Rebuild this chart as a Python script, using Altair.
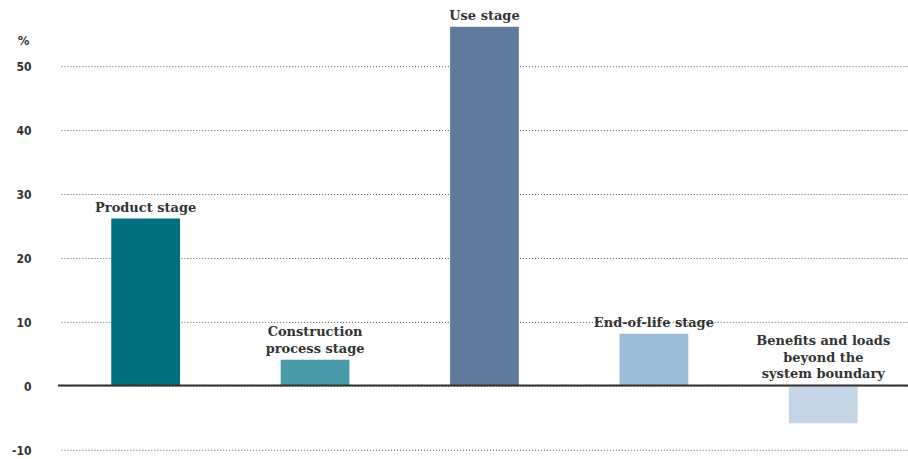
import altair as alt
import pandas as pd

stages = ["Product stage", "Construction process stage", "Use stage", "End-of-life stage",
          "Benefits and loads beyond the system boundary"]
stage_lines = [["Product stage"], ["Construction", "process stage"], ["Use stage"],
               ["End-of-life stage"], ["Benefits and loads", "beyond the", "system boundary"]]
values = [26.1, 4.0, 56.1, 8.1, -5.9]
colors = ["#00707F", "#4A9BAA", "#5E7B9B", "#9BBCD9", "#C4D5E6"]
y_ticks = [-10, 0, 10, 20, 30, 40, 50]

df = pd.DataFrame({"stage": stages, "value": values, "color": colors})

rows = []
for s, lines, v in zip(stages, stage_lines, values):
    n = len(lines)
    for i, ln in enumerate(lines):
        rows.append({"stage": s, "line": ln, "k": n - 1 - i, "label_y": max(v, 0)})
ldf = pd.DataFrame(rows)

x = alt.X("stage:N", sort=stages, axis=None,
          scale=alt.Scale(paddingInner=0.594, paddingOuter=0.297))
yscale = alt.Scale(domain=[-11, 59], nice=False, zero=False)

bars = alt.Chart(df).mark_bar().encode(
    x=x,
    y=alt.Y("value:Q", scale=yscale,
            axis=alt.Axis(values=y_ticks, title="%", titleAngle=0, titleX=-38, titleY=39,
                          titleAlign="center", titleFont="DejaVu Sans Condensed",
                          titleFontSize=13, titleFontWeight="bold", titleColor="#333333",
                          labelFont="DejaVu Sans Condensed", labelFontSize=12,
                          labelFontWeight="bold", labelColor="#333333", labelPadding=30,
                          labelExpr="'' + datum.value",
                          labelOffset=1, domain=False, ticks=False, grid=True,
                          gridDash=[1, 2], gridColor="#555555", gridWidth=1)),
    y2=alt.datum(0),
    color=alt.Color("color:N", scale=None),
)

label_layers = []
for k in range(3):
    label_layers.append(
        alt.Chart(ldf).transform_filter(alt.datum.k == k).mark_text(
            font="DejaVu Serif", fontWeight="bold", fontSize=13, baseline="alphabetic",
            dy=-7 - 16.5 * k, color="#333333"
        ).encode(
            x=x,
            y=alt.Y("label_y:Q", scale=yscale),
            text="line:N",
        )
    )

zero = alt.Chart(pd.DataFrame({"z": [0]})).mark_rule(color="#333333", strokeWidth=2).encode(
    y=alt.Y("z:Q", scale=yscale),
    x=alt.value(-3),
    x2=alt.value(850),
)

chart = alt.layer(bars, zero, *label_layers).properties(
    width=848, height=448,
    autosize=alt.AutoSizeParams(type="none"),
    padding={"left": 61, "top": 8, "right": 0, "bottom": 0},
).configure_view(stroke=None).configure_axis(labelLimit=200)

chart.save("out.html", embed_options={"renderer": "svg", "actions": False})
